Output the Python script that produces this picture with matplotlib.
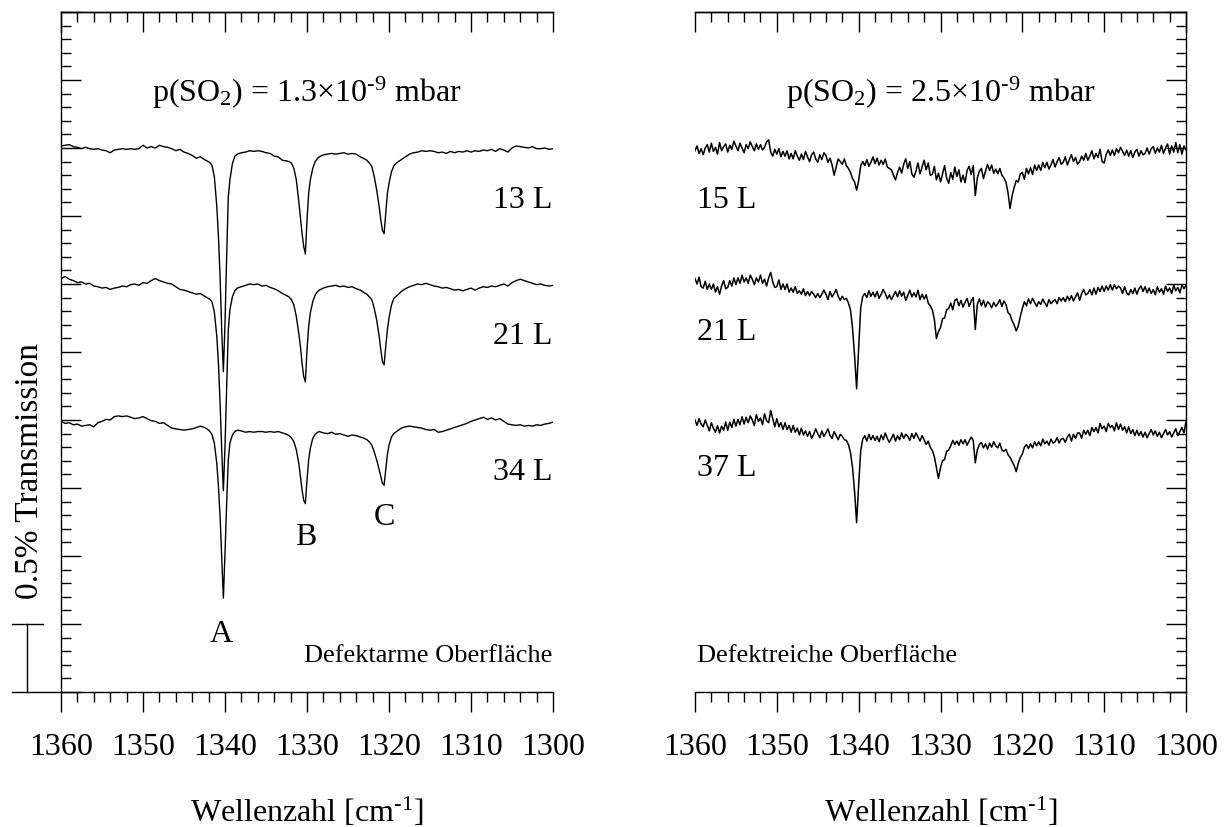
import numpy as np
import matplotlib
matplotlib.use("Agg")
import matplotlib.pyplot as plt
from matplotlib.ticker import MultipleLocator, NullFormatter
import matplotlib.transforms as mtransforms

plt.rcParams['font.family'] = ['Liberation Serif', 'DejaVu Serif']
plt.rcParams['mathtext.fontset'] = 'custom'
plt.rcParams['mathtext.rm'] = 'Liberation Serif'
plt.rcParams['mathtext.it'] = 'Liberation Serif:italic'
plt.rcParams['mathtext.bf'] = 'Liberation Serif:bold'

# ---------------- data ----------------
# low-defect surface, p(SO2) = 1.3e-9 mbar: sampled wavenumbers (cm^-1)
wn_low = [
    1360.0, 1359.5, 1359.0, 1358.5, 1358.0, 1357.5, 1357.0, 1356.5, 1356.0, 1355.5,
    1355.0, 1354.5, 1354.0, 1353.5, 1353.0, 1352.5, 1352.0, 1351.5, 1351.0, 1350.5,
    1350.0, 1349.5, 1349.0, 1348.5, 1348.0, 1347.5, 1347.0, 1346.5, 1346.0, 1345.5,
    1345.0, 1344.5, 1344.0, 1343.5, 1343.0, 1342.5,
    1342.2, 1341.9, 1341.6, 1341.3, 1341.0, 1340.8, 1340.6, 1340.4, 1340.2, 1340.0,
    1339.8, 1339.6, 1339.4, 1339.1, 1338.8, 1338.5,
    1338.0, 1337.5, 1337.0, 1336.5, 1336.0, 1335.5, 1335.0, 1334.5, 1334.0, 1333.5,
    1333.0, 1332.5,
    1332.2, 1331.9, 1331.6, 1331.3, 1331.0, 1330.8, 1330.6, 1330.4, 1330.2, 1330.0,
    1329.8, 1329.6, 1329.3, 1329.0, 1328.7,
    1328.5, 1328.0, 1327.5, 1327.0, 1326.5, 1326.0, 1325.5, 1325.0, 1324.5, 1324.0,
    1323.5, 1323.0,
    1322.7, 1322.4, 1322.1, 1321.8, 1321.5, 1321.2, 1321.0, 1320.8, 1320.6, 1320.4,
    1320.2, 1320.0, 1319.7, 1319.4, 1319.1,
    1318.5, 1318.0, 1317.5, 1317.0, 1316.5, 1316.0, 1315.5, 1315.0, 1314.5, 1314.0,
    1313.5, 1313.0, 1312.5, 1312.0, 1311.5, 1311.0, 1310.5, 1310.0, 1309.5, 1309.0,
    1308.5, 1308.0, 1307.5, 1307.0, 1306.5, 1306.0, 1305.5, 1305.0, 1304.5, 1304.0,
    1303.5, 1303.0, 1302.5, 1302.0, 1301.5, 1301.0, 1300.5, 1300.0,
]

# transmission traces (offset, in units of 0.5 %)
low_13L = [
    8.03, 8.04, 8.05, 8.02, 8.01, 7.99, 8.01, 7.99, 7.98, 7.99,
    7.97, 7.96, 7.93, 7.97, 7.98, 7.99, 7.98, 7.99, 7.98, 7.99,
    8.04, 8.00, 8.02, 8.00, 8.04, 8.02, 8.01, 7.99, 7.96, 7.98,
    7.94, 7.92, 7.89, 7.85, 7.87, 7.83,
    7.81, 7.79, 7.75, 7.58, 7.14, 6.70, 6.11, 5.32, 4.71, 5.42,
    6.40, 7.28, 7.53, 7.77, 7.88, 7.91,
    7.93, 7.94, 7.96, 7.95, 7.96, 7.95, 7.93, 7.92, 7.88, 7.87,
    7.82, 7.81,
    7.80, 7.78, 7.70, 7.53, 7.21, 6.97, 6.74, 6.55, 6.44, 6.94,
    7.33, 7.53, 7.70, 7.80, 7.85,
    7.87, 7.90, 7.91, 7.92, 7.91, 7.92, 7.93, 7.91, 7.92, 7.91,
    7.87, 7.84,
    7.82, 7.78, 7.73, 7.58, 7.38, 7.14, 6.94, 6.79, 6.74, 7.04,
    7.33, 7.48, 7.65, 7.74, 7.78,
    7.83, 7.87, 7.91, 7.93, 7.94, 7.96, 7.95, 7.96, 7.95, 7.93,
    7.94, 7.92, 7.95, 7.93, 7.95, 7.94, 7.96, 7.94, 7.96, 7.95,
    7.97, 7.96, 7.98, 7.95, 7.99, 7.97, 7.94, 8.00, 8.03, 8.02,
    8.01, 8.00, 8.02, 7.99, 7.99, 8.00, 7.98, 7.99,
]
low_21L = [
    6.08, 6.11, 6.07, 6.05, 6.02, 6.03, 6.00, 6.01, 5.97, 5.96,
    5.94, 5.95, 5.92, 5.94, 5.95, 5.97, 5.96, 5.99, 6.00, 5.98,
    6.02, 6.01, 6.05, 6.08, 6.05, 6.03, 6.01, 6.00, 5.96, 5.92,
    5.91, 5.89, 5.87, 5.85, 5.86, 5.82,
    5.80, 5.78, 5.74, 5.59, 5.23, 4.83, 4.25, 3.56, 2.96, 3.61,
    4.49, 5.32, 5.62, 5.81, 5.90, 5.94,
    5.96, 5.98, 6.00, 5.99, 6.00, 5.97, 5.98, 5.95, 5.93, 5.90,
    5.86, 5.83,
    5.81, 5.77, 5.69, 5.52, 5.27, 5.08, 4.83, 4.64, 4.56, 5.03,
    5.37, 5.57, 5.74, 5.84, 5.89,
    5.91, 5.94, 5.96, 5.97, 5.98, 5.96, 5.97, 5.95, 5.96, 5.93,
    5.91, 5.87,
    5.85, 5.81, 5.77, 5.64, 5.47, 5.23, 5.03, 4.86, 4.81, 5.08,
    5.32, 5.50, 5.69, 5.79, 5.82,
    5.89, 5.93, 5.96, 5.98, 6.00, 5.99, 6.01, 5.99, 5.97, 5.96,
    5.94, 5.95, 5.93, 5.91, 5.92, 5.90, 5.92, 5.94, 5.91, 5.94,
    5.96, 5.95, 5.97, 5.96, 5.98, 6.00, 5.97, 6.02, 6.05, 6.07,
    6.05, 6.03, 6.01, 5.99, 6.00, 5.98, 5.97, 5.98,
]
low_34L = [
    3.98, 3.95, 3.96, 3.93, 3.94, 3.91, 3.92, 3.93, 3.90, 3.96,
    3.98, 4.01, 4.00, 4.05, 4.06, 4.05, 4.06, 4.04, 4.02, 4.03,
    4.05, 4.02, 3.99, 3.98, 3.95, 3.96, 3.92, 3.88, 3.87, 3.86,
    3.85, 3.86, 3.87, 3.89, 3.91, 3.89,
    3.87, 3.84, 3.79, 3.66, 3.36, 3.02, 2.58, 1.99, 1.38, 2.04,
    2.77, 3.41, 3.66, 3.78, 3.83, 3.85,
    3.84, 3.82, 3.83, 3.82, 3.83, 3.83, 3.82, 3.83, 3.82, 3.83,
    3.81, 3.79,
    3.77, 3.74, 3.68, 3.56, 3.36, 3.17, 2.97, 2.82, 2.77, 3.12,
    3.41, 3.58, 3.73, 3.79, 3.82,
    3.83, 3.81, 3.80, 3.82, 3.79, 3.80, 3.78, 3.76, 3.78, 3.77,
    3.75, 3.73,
    3.71, 3.68, 3.63, 3.53, 3.41, 3.27, 3.17, 3.07, 3.04, 3.27,
    3.49, 3.63, 3.75, 3.80, 3.83,
    3.88, 3.90, 3.91, 3.90, 3.89, 3.88, 3.86, 3.85, 3.86, 3.82,
    3.83, 3.85, 3.87, 3.89, 3.91, 3.93, 3.95, 3.98, 4.00, 4.02,
    4.04, 4.01, 4.03, 4.00, 4.02, 3.98, 3.94, 3.93, 3.92, 3.93,
    3.91, 3.92, 3.91, 3.93, 3.92, 3.94, 3.95, 3.97,
]

# high-defect surface, p(SO2) = 2.5e-9 mbar: 0.25 cm^-1 sampling, 1360 -> 1300
wn_high = np.linspace(1360.0, 1300.0, 241)

high_15L = [
    7.96, 8.03, 7.92, 7.99, 7.90, 8.00, 8.05, 7.94, 8.07, 7.95, 8.01, 7.91,
    8.08, 7.96, 8.02, 8.06, 7.94, 8.04, 7.98, 8.10, 8.03, 7.96, 8.07, 8.00,
    7.93, 8.05, 7.99, 8.09, 8.02, 7.96, 8.06, 7.98, 8.05, 7.97, 8.01, 8.09,
    8.12, 7.94, 7.88, 7.98, 7.91, 7.99, 7.87, 7.95, 7.88, 7.96, 7.84, 7.92,
    7.84, 7.96, 7.88, 7.82, 7.91, 7.83, 7.95, 7.87, 7.80, 7.90, 7.94, 7.84,
    7.79, 7.90, 7.83, 7.93, 7.89, 7.79, 7.85, 7.75, 7.60, 7.72, 7.84, 7.80,
    7.76, 7.84, 7.74, 7.70, 7.64, 7.55, 7.50, 7.38, 7.52, 7.74, 7.80, 7.74,
    7.83, 7.73, 7.79, 7.87, 7.77, 7.85, 7.75, 7.82, 7.76, 7.84, 7.72, 7.70,
    7.68, 7.60, 7.53, 7.64, 7.72, 7.63, 7.76, 7.84, 7.70, 7.80, 7.62, 7.57,
    7.66, 7.78, 7.62, 7.72, 7.82, 7.68, 7.78, 7.60, 7.61, 7.73, 7.53, 7.63,
    7.50, 7.62, 7.74, 7.56, 7.48, 7.64, 7.54, 7.72, 7.58, 7.68, 7.50, 7.60,
    7.49, 7.67, 7.73, 7.61, 7.74, 7.30, 7.56, 7.66, 7.70, 7.55, 7.66, 7.76,
    7.67, 7.75, 7.63, 7.69, 7.62, 7.70, 7.60, 7.56, 7.50, 7.34, 7.11, 7.30,
    7.42, 7.52, 7.50, 7.62, 7.64, 7.54, 7.70, 7.62, 7.71, 7.61, 7.75, 7.67,
    7.75, 7.67, 7.79, 7.71, 7.79, 7.69, 7.75, 7.83, 7.72, 7.80, 7.86, 7.76,
    7.79, 7.87, 7.75, 7.83, 7.90, 7.80, 7.86, 7.76, 7.80, 7.88, 7.82, 7.92,
    7.82, 7.88, 7.96, 7.84, 7.92, 7.86, 7.98, 7.80, 7.78, 7.91, 7.97, 7.89,
    7.97, 7.89, 7.99, 7.93, 8.01, 7.95, 7.89, 7.97, 7.88, 7.96, 7.86, 7.94,
    7.98, 7.88, 7.96, 7.90, 7.92, 8.00, 7.91, 7.99, 8.02, 7.92, 8.00, 7.94,
    8.04, 7.92, 8.00, 8.06, 7.91, 8.03, 7.94, 8.08, 7.93, 8.05, 7.91, 8.03,
    7.97,
]
high_21L = [
    6.08, 6.00, 6.10, 5.96, 5.94, 6.04, 5.92, 6.00, 5.92, 6.00, 5.88, 5.96,
    5.85, 5.97, 6.05, 5.93, 5.95, 6.05, 5.97, 6.09, 5.99, 6.09, 6.01, 6.13,
    6.03, 6.09, 6.01, 6.13, 6.07, 5.99, 6.09, 6.03, 6.13, 6.01, 6.07, 5.97,
    6.09, 6.17, 6.03, 5.95, 5.96, 6.06, 5.92, 6.00, 5.92, 6.00, 5.88, 5.94,
    5.88, 5.96, 5.86, 5.90, 5.85, 5.93, 5.83, 5.89, 5.83, 5.89, 5.85, 5.80,
    5.86, 5.80, 5.85, 5.91, 5.85, 5.77, 5.89, 5.81, 5.86, 5.92, 5.82, 5.76,
    5.82, 5.77, 5.79, 5.72, 5.62, 5.35, 4.95, 4.46, 5.05, 5.65, 5.82, 5.86,
    5.80, 5.90, 5.82, 5.88, 5.81, 5.89, 5.79, 5.85, 5.92, 5.86, 5.78, 5.84,
    5.77, 5.83, 5.89, 5.81, 5.90, 5.82, 5.88, 5.76, 5.83, 5.91, 5.81, 5.87,
    5.81, 5.91, 5.77, 5.85, 5.78, 5.84, 5.72, 5.68, 5.62, 5.48, 5.20, 5.30,
    5.36, 5.49, 5.50, 5.62, 5.64, 5.72, 5.62, 5.76, 5.78, 5.68, 5.76, 5.66,
    5.73, 5.79, 5.67, 5.75, 5.80, 5.33, 5.70, 5.78, 5.68, 5.76, 5.66, 5.74,
    5.71, 5.65, 5.73, 5.67, 5.71, 5.77, 5.67, 5.75, 5.70, 5.58, 5.55, 5.46,
    5.40, 5.31, 5.38, 5.52, 5.64, 5.74, 5.68, 5.78, 5.71, 5.79, 5.73, 5.67,
    5.74, 5.70, 5.78, 5.72, 5.67, 5.77, 5.71, 5.75, 5.77, 5.71, 5.80, 5.75,
    5.80, 5.74, 5.82, 5.76, 5.83, 5.75, 5.81, 5.87, 5.76, 5.86, 5.92, 5.84,
    5.86, 5.92, 5.84, 5.94, 5.85, 5.95, 5.89, 5.97, 5.89, 5.97, 5.91, 5.99,
    5.91, 5.99, 5.93, 5.97, 5.94, 5.86, 5.96, 5.87, 5.84, 5.92, 5.86, 5.94,
    5.85, 5.93, 5.97, 5.89, 5.96, 5.87, 5.94, 5.86, 5.92, 5.84, 5.96, 5.88,
    5.93, 5.85, 5.97, 5.89, 5.94, 5.86, 5.98, 5.90, 5.95, 5.87, 5.99, 5.93,
    5.98,
]
high_37L = [
    4.00, 3.92, 4.02, 3.94, 3.90, 4.00, 3.92, 3.84, 3.96, 3.88, 3.82, 3.92,
    3.81, 3.91, 3.85, 3.97, 3.85, 3.97, 3.89, 4.01, 3.91, 4.01, 3.93, 4.05,
    3.94, 4.04, 3.96, 4.06, 4.00, 3.92, 4.08, 3.98, 4.03, 3.93, 4.09, 3.99,
    3.96, 4.14, 4.02, 3.90, 4.02, 3.90, 3.96, 3.86, 3.96, 3.86, 3.92, 3.82,
    3.92, 3.82, 3.88, 3.78, 3.88, 3.78, 3.84, 3.76, 3.83, 3.73, 3.79, 3.87,
    3.80, 3.74, 3.84, 3.76, 3.81, 3.87, 3.77, 3.73, 3.83, 3.77, 3.71, 3.79,
    3.76, 3.71, 3.70, 3.64, 3.52, 3.30, 2.95, 2.49, 3.05, 3.55, 3.72, 3.77,
    3.69, 3.79, 3.71, 3.77, 3.70, 3.76, 3.68, 3.78, 3.71, 3.81, 3.73, 3.67,
    3.73, 3.79, 3.69, 3.77, 3.71, 3.81, 3.73, 3.79, 3.76, 3.70, 3.80, 3.73,
    3.81, 3.75, 3.69, 3.77, 3.71, 3.64, 3.69, 3.60, 3.55, 3.46, 3.30, 3.14,
    3.30, 3.40, 3.42, 3.54, 3.56, 3.62, 3.70, 3.64, 3.69, 3.63, 3.71, 3.65,
    3.71, 3.63, 3.69, 3.75, 3.70, 3.37, 3.56, 3.64, 3.67, 3.59, 3.65, 3.57,
    3.66, 3.60, 3.68, 3.62, 3.59, 3.66, 3.56, 3.54, 3.57, 3.49, 3.45, 3.39,
    3.33, 3.24, 3.36, 3.45, 3.50, 3.60, 3.64, 3.58, 3.65, 3.59, 3.68, 3.62,
    3.68, 3.62, 3.72, 3.65, 3.69, 3.63, 3.72, 3.66, 3.68, 3.74, 3.66, 3.72,
    3.73, 3.67, 3.75, 3.79, 3.69, 3.79, 3.73, 3.81, 3.81, 3.73, 3.85, 3.79,
    3.85, 3.77, 3.89, 3.83, 3.89, 3.81, 3.95, 3.87, 3.91, 3.83, 3.95, 3.89,
    3.92, 3.84, 3.96, 3.86, 3.94, 3.85, 3.90, 3.81, 3.90, 3.80, 3.86, 3.77,
    3.85, 3.77, 3.83, 3.75, 3.82, 3.74, 3.80, 3.86, 3.78, 3.84, 3.76, 3.82,
    3.74, 3.80, 3.86, 3.78, 3.83, 3.75, 3.81, 3.87, 3.77, 3.83, 3.89, 3.81,
    3.98,
]

low_labels = ["13 L", "21 L", "34 L"]
high_labels = ["15 L", "21 L", "37 L"]
peak_names = ["A", "B", "C"]
peak_wn = [1340.5, 1330.1, 1320.55]

# ---------------- figure ----------------
W, H = 1229, 827
fig = plt.figure(figsize=(W / 100, H / 100), dpi=100)
ax1 = fig.add_axes([61 / W, 135 / H, 492 / W, 680 / H])
ax2 = fig.add_axes([695 / W, 135 / H, 491 / W, 680 / H])

FS = 23
LW = 1.0
HY = "\u2010"  # short hyphen used in exponents


def style_axes(ax, side):
    ax.set_xlim(1360, 1300)
    ax.set_ylim(0, 10)
    ax.xaxis.set_major_locator(MultipleLocator(10))
    ax.xaxis.set_minor_locator(MultipleLocator(2))
    ax.yaxis.set_major_locator(MultipleLocator(1))
    ax.yaxis.set_minor_locator(MultipleLocator(0.2))
    ax.tick_params(axis='x', which='both', direction='out', top=False,
                   bottom=True, width=LW, labelsize=FS, pad=15)
    ax.tick_params(axis='x', which='major', length=14.4)
    ax.tick_params(axis='x', which='minor', length=7.2)
    ax.tick_params(axis='y', which='both', direction='in', width=LW,
                   left=(side == 'left'), right=(side == 'right'),
                   labelleft=False, labelright=False)
    ax.tick_params(axis='y', which='major', length=14.4)
    ax.tick_params(axis='y', which='minor', length=7.2)
    hidden = 'right' if side == 'left' else 'left'
    ax.spines[hidden].set_visible(False)
    for s in ax.spines.values():
        s.set_linewidth(LW)
    # top axis: inward ticks, no labels
    top = ax.secondary_xaxis('top')
    top.xaxis.set_major_locator(MultipleLocator(10))
    top.xaxis.set_minor_locator(MultipleLocator(2))
    top.xaxis.set_major_formatter(NullFormatter())
    top.tick_params(axis='x', which='both', direction='in', width=LW,
                    labeltop=False)
    top.tick_params(axis='x', which='major', length=14.4)
    top.tick_params(axis='x', which='minor', length=7.2)
    top.spines['top'].set_linewidth(LW)
    ax.set_xlabel("Wellenzahl [cm$^{" + HY + "1}$]", fontsize=FS)
    ax.xaxis.set_label_coords(0.5, (692 - 822) / 680)
    ax.xaxis.label.set_verticalalignment('baseline')


style_axes(ax1, 'left')
style_axes(ax2, 'right')

for vals in (low_13L, low_21L, low_34L):
    ax1.plot(wn_low, vals, color='black', lw=LW)
for vals in (high_15L, high_21L, high_37L):
    ax2.plot(wn_high, vals, color='black', lw=1.1)

ax1.text(1330, 8.68, "p(SO$_2$) = 1.3×10$^{" + HY + "9}$ mbar", ha='center',
         va='baseline', fontsize=FS)
ax2.text(1330, 8.68, "p(SO$_2$) = 2.5×10$^{" + HY + "9}$ mbar", ha='center',
         va='baseline', fontsize=FS)

for lab, y in zip(low_labels, [7.12, 5.12, 3.12]):
    ax1.text(1300.1, y, lab, ha='right', va='baseline', fontsize=FS)
for lab, y in zip(high_labels, [7.12, 5.17, 3.17]):
    ax2.text(1359.8, y, lab, ha='left', va='baseline', fontsize=FS)

for name, x, y in zip(peak_names, peak_wn, [0.735, 2.16, 2.46]):
    ax1.text(x, y, name, ha='center', va='baseline', fontsize=FS)

ax1.text(1300.1, 0.44, "Defektarme Oberfläche", ha='right', va='baseline',
         fontsize=19)
ax2.text(1359.8, 0.44, "Defektreiche Oberfläche", ha='left', va='baseline',
         fontsize=19)

# 0.5 % transmission scale bar at the left of the first panel
trans = mtransforms.blended_transform_factory(ax1.transAxes, ax1.transData)
x_bar = (27 - 61) / 492
x_cap0 = (12 - 61) / 492
x_cap1 = (43 - 61) / 492
ax1.plot([x_bar, x_bar], [0, 1], color='black', lw=LW, transform=trans,
         clip_on=False)
ax1.plot([x_cap0, x_cap1], [1, 1], color='black', lw=LW, transform=trans,
         clip_on=False)
ax1.plot([x_cap0, 0], [0, 0], color='black', lw=LW, transform=trans,
         clip_on=False)
ax1.text((30 - 61) / 492, (692 - 599) / 680, "0.5% Transmission",
         transform=ax1.transAxes, rotation=90, ha='center', va='bottom',
         fontsize=24)

fig.savefig("out.png", dpi=100)
